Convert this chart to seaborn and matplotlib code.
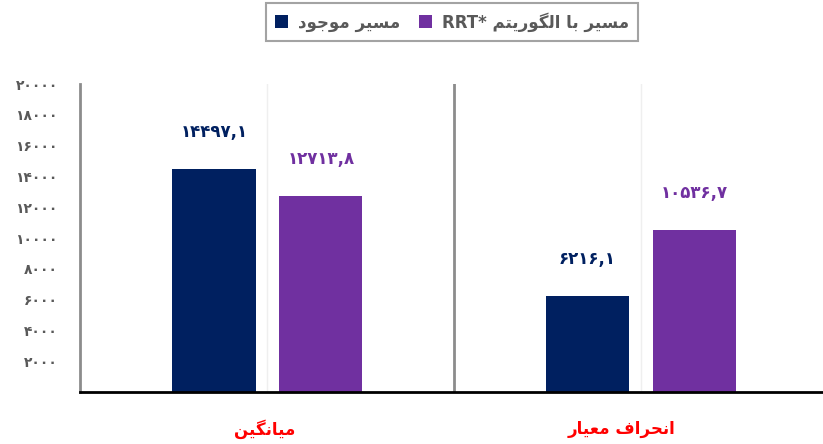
import pandas as pd
import seaborn as sns
import matplotlib.pyplot as plt
import matplotlib.transforms as mtransforms
from matplotlib.patches import Patch

# chart data
categories = ["میانگین", "انحراف معیار"]
series = ["مسیر موجود", "مسیر با الگوریتم RRT*"]
existing_path = [14497.1, 6216.1]
rrt_path = [12713.8, 10536.7]
y_ticks = [2000, 4000, 6000, 8000, 10000, 12000, 14000, 16000, 18000, 20000]

colors = ["#002060", "#7030A0"]

# arabic presentation forms: isolated, final, initial, medial
FORMS = {
    "ا": ("\uFE8D", "\uFE8E", None, None),
    "ب": ("\uFE8F", "\uFE90", "\uFE91", "\uFE92"),
    "ت": ("\uFE95", "\uFE96", "\uFE97", "\uFE98"),
    "ج": ("\uFE9D", "\uFE9E", "\uFE9F", "\uFEA0"),
    "ح": ("\uFEA1", "\uFEA2", "\uFEA3", "\uFEA4"),
    "د": ("\uFEA9", "\uFEAA", None, None),
    "ر": ("\uFEAD", "\uFEAE", None, None),
    "س": ("\uFEB1", "\uFEB2", "\uFEB3", "\uFEB4"),
    "ع": ("\uFEC9", "\uFECA", "\uFECB", "\uFECC"),
    "ف": ("\uFED1", "\uFED2", "\uFED3", "\uFED4"),
    "ل": ("\uFEDD", "\uFEDE", "\uFEDF", "\uFEE0"),
    "م": ("\uFEE1", "\uFEE2", "\uFEE3", "\uFEE4"),
    "ن": ("\uFEE5", "\uFEE6", "\uFEE7", "\uFEE8"),
    "و": ("\uFEED", "\uFEEE", None, None),
    "ی": ("\uFBFC", "\uFBFD", "\uFBFE", "\uFBFF"),
    "گ": ("\uFB92", "\uFB93", "\uFB94", "\uFB95"),
}

FA_DIGITS = str.maketrans("0123456789", "۰۱۲۳۴۵۶۷۸۹")


def shape_word(w):
    out = []
    for i, c in enumerate(w):
        if c not in FORMS:
            out.append(c)
            continue
        f = FORMS[c]
        prev = w[i - 1] if i > 0 else None
        nxt = w[i + 1] if i + 1 < len(w) else None
        join_prev = prev in FORMS and FORMS[prev][2] is not None
        join_next = nxt in FORMS and f[2] is not None
        if join_prev and join_next:
            out.append(f[3])
        elif join_prev:
            out.append(f[1])
        elif join_next:
            out.append(f[2])
        else:
            out.append(f[0])
    return "".join(out)


def rtl(text):
    # shape letters and put words in visual (right-to-left) order
    words = text.split(" ")
    res = []
    for w in reversed(words):
        if any(c in FORMS for c in w):
            res.append(shape_word(w)[::-1])
        else:
            res.append(w)
    return " ".join(res)


def fa_num(v, decimals=0):
    s = f"{v:.{decimals}f}".replace(".", ",")
    return s.translate(FA_DIGITS)


df = pd.DataFrame({
    "cat": [rtl(c) for c in categories] * 2,
    "series": [series[0]] * 2 + [series[1]] * 2,
    "value": existing_path + rrt_path,
})

plt.rcParams["font.family"] = ["DejaVu Sans"]

fig = plt.figure(figsize=(8.23, 4.44), dpi=100)
ax = fig.add_axes([80 / 823, 1 - 392 / 444, 743 / 823, (392 - 84) / 444])

sns.barplot(data=df, x="cat", y="value", hue="series", palette=colors,
            width=0.572, gap=0.22, ax=ax, legend=False, saturation=1)

for cont, vals, col in zip(ax.containers, [existing_path, rrt_path], colors):
    ax.bar_label(cont, labels=[fa_num(v, 1) for v in vals], padding=20,
                 color=col, fontsize=12, fontweight="bold")

ax.set_xlim(-0.502, 1.488)
ax.set_ylim(0, 20000)
ax.set_yticks(y_ticks)
ax.set_yticklabels([fa_num(t) for t in y_ticks], color="#595959",
                   fontsize=10, fontweight="bold")
ax.tick_params(axis="y", length=0, pad=16)
ax.tick_params(axis="x", length=0, pad=20)
# category labels sit a little left of the group centres in the original
for lbl, dx in zip(ax.get_xticklabels(), [-3, -19]):
    lbl.set_color("#FF0000")
    lbl.set_fontweight("bold")
    lbl.set_fontsize(12)
    lbl.set_transform(lbl.get_transform() +
                      mtransforms.ScaledTranslation(dx / 100, 0, fig.dpi_scale_trans))
ax.set_xlabel("")
ax.set_ylabel("")

ax.grid(axis="x", color="#efefef", lw=1)
ax.set_axisbelow(True)
ax.axvline(0.5, color="#8c8c8c", lw=2)
for s in ["top", "right"]:
    ax.spines[s].set_visible(False)
ax.spines["left"].set_color("#8c8c8c")
ax.spines["left"].set_linewidth(2)
ax.spines["bottom"].set_color("black")
ax.spines["bottom"].set_linewidth(2)

handles = [Patch(facecolor=c) for c in colors]
leg = fig.legend(handles, [rtl(s) for s in series], ncol=2, loc="upper center",
                 bbox_to_anchor=(452 / 823, 1 - 3 / 444), borderaxespad=0,
                 frameon=True, fancybox=False, edgecolor="#8c8c8c",
                 handlelength=0.8, handleheight=0.8, columnspacing=1.1,
                 handletextpad=0.6, borderpad=0.55,
                 prop={"size": 12, "weight": "bold"})
leg.get_frame().set_linewidth(1.5)
for t in leg.get_texts():
    t.set_color("#595959")

fig.savefig("out.png", dpi=100)
